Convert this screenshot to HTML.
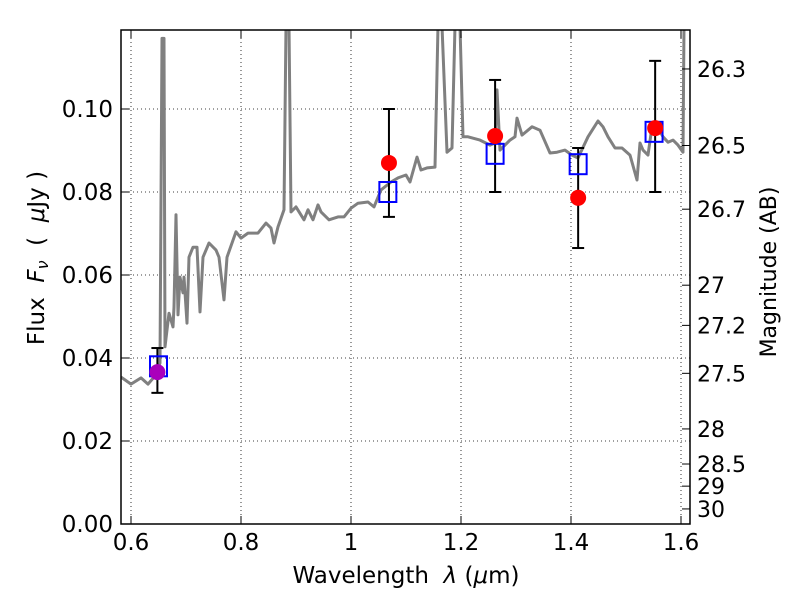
<!DOCTYPE html>
<html><head><meta charset="utf-8"><style>
body{margin:0;background:#fff}
svg text{font-family:"DejaVu Sans","Liberation Sans",sans-serif;fill:#000}
</style></head><body>
<svg id="chart" width="800" height="600" viewBox="0 0 800 600">
<defs><clipPath id="clip"><rect x="121" y="30" width="569" height="494"/></clipPath></defs>
<g id="grid"></g>
<g id="spec" clip-path="url(#clip)"></g>
<g id="marks" clip-path="url(#clip)"></g>
<rect x="121" y="30" width="569" height="494" fill="none" stroke="#000" stroke-width="1.5"/>
<g id="axes"></g>
<text xml:space="preserve" x="406" y="583" font-size="23" text-anchor="middle">Wavelength  <tspan font-style="italic">λ</tspan> (<tspan font-style="italic">μ</tspan>m)</text>
<text xml:space="preserve" transform="translate(44,258) rotate(-90)" font-size="23" text-anchor="middle">Flux  <tspan font-style="italic">F<tspan font-size="16" dy="4">ν</tspan></tspan><tspan dy="-4">  (  </tspan><tspan font-style="italic">μ</tspan>Jy )</text>
<text xml:space="preserve" transform="translate(776,272) rotate(-90)" font-size="22" text-anchor="middle">Magnitude (AB)</text>
</svg>
<script>
const xTicks=[0.6,0.8,1.0,1.2,1.4,1.6];
const xTickLabels=["0.6","0.8","1","1.2","1.4","1.6"];
const yTicks=[0,0.02,0.04,0.06,0.08,0.10];
const yTickLabels=["0.00","0.02","0.04","0.06","0.08","0.10"];
const magTicks=[26.3,26.5,26.7,27,27.2,27.5,28,28.5,29,30];
const specWave=[0.5818,0.6,0.6182,0.6309,0.6418,0.6527,0.6564,0.66,0.6618,0.6691,0.6764,0.6782,0.6818,0.6855,0.6891,0.6945,0.6964,0.7018,0.7055,0.7127,0.72,0.7255,0.7309,0.7418,0.7545,0.76,0.7691,0.7745,0.7909,0.8,0.8127,0.8309,0.8455,0.8545,0.86,0.8673,0.8782,0.8818,0.8873,0.8909,0.9,0.9145,0.9218,0.9309,0.94,0.9455,0.96,0.9764,0.9873,1.0,1.0127,1.0309,1.0418,1.0545,1.0727,1.0855,1.1,1.1073,1.12,1.1273,1.1382,1.1527,1.1582,1.1655,1.1745,1.1836,1.1891,1.1982,1.2036,1.2127,1.2345,1.2527,1.2618,1.2655,1.2709,1.28,1.2891,1.2982,1.3018,1.3109,1.3291,1.3436,1.3618,1.3745,1.3891,1.4018,1.4127,1.4309,1.4491,1.4582,1.4673,1.48,1.4927,1.5073,1.52,1.5255,1.5309,1.54,1.5473,1.5582,1.5673,1.5764,1.5855,1.5945,1.6036,1.6055,1.6109];
const specFlux=[0.0354,0.0337,0.0352,0.0337,0.0354,0.0388,0.117,0.117,0.0427,0.0508,0.0475,0.0523,0.0745,0.0504,0.0595,0.0557,0.0595,0.0484,0.0643,0.0667,0.0667,0.0511,0.0643,0.0677,0.066,0.0643,0.054,0.0643,0.0704,0.0689,0.0701,0.0701,0.0725,0.0713,0.0677,0.0716,0.0757,0.12,0.12,0.0752,0.0764,0.0733,0.0757,0.0733,0.0769,0.0752,0.0733,0.074,0.074,0.0761,0.0773,0.0776,0.0764,0.0805,0.0824,0.0834,0.0841,0.0824,0.0884,0.0853,0.0858,0.086,0.12,0.12,0.0896,0.0906,0.12,0.12,0.0933,0.0933,0.0925,0.0913,0.0918,0.1046,0.0901,0.0913,0.0925,0.0933,0.0978,0.0937,0.0957,0.0949,0.0894,0.0896,0.0901,0.0889,0.0882,0.0933,0.0971,0.0957,0.0933,0.0906,0.0906,0.0889,0.0829,0.0918,0.0901,0.0889,0.0957,0.0954,0.0933,0.092,0.0925,0.0913,0.0896,0.12,0.12];
const obsWave=[0.648,1.069,1.262,1.413,1.553];
const obsFlux=[0.0366,0.087,0.0935,0.0786,0.0954];
const obsLow=[0.0316,0.074,0.080,0.0665,0.080];
const obsHigh=[0.0424,0.100,0.107,0.0906,0.1116];
const obsColors=["#aa00bb","#ff0000","#ff0000","#ff0000","#ff0000"];
const modelWave=[0.65,1.067,1.262,1.413,1.551];
const modelFlux=[0.038,0.080,0.0892,0.0867,0.0945];

const NS="http://www.w3.org/2000/svg";
const X=l=>131+(l-0.6)*550;
const Y=f=>524-f*4150;
const magToFlux=m=>Math.pow(10,(23.9-m)/2.5);
function mk(parent,tag,attrs){const e=document.createElementNS(NS,tag);for(const k in attrs)e.setAttribute(k,attrs[k]);document.getElementById(parent).appendChild(e);return e;}

xTicks.forEach((t,i)=>{
 const x=X(t);
 let g=mk('grid','line',{x1:x,x2:x,y1:30,y2:524,stroke:'#000','stroke-width':0.8,'stroke-dasharray':'1,3'});
 
 
 let a=mk('axes','line',{x1:x,x2:x,y1:524,y2:516,stroke:'#000'});
 
 
 let b=mk('axes','line',{x1:x,x2:x,y1:30,y2:38,stroke:'#000'});
 
 
 let l=mk('axes','text',{x:x,y:550,'font-size':23,'text-anchor':'middle'});
 l.textContent=xTickLabels[i];
 
 
});
yTicks.forEach((t,i)=>{
 const y=Y(t);
 let g=mk('grid','line',{x1:121,x2:690,y1:y,y2:y,stroke:'#000','stroke-width':0.8,'stroke-dasharray':'1,3'});
 
 
 let a=mk('axes','line',{x1:121,x2:129,y1:y,y2:y,stroke:'#000'});
 
 
 let l=mk('axes','text',{x:113,y:y+8,'font-size':23,'text-anchor':'end'});
 l.textContent=yTickLabels[i];
 
 
});
magTicks.forEach(m=>{
 const y=Y(magToFlux(m));
 let a=mk('axes','line',{x1:682,x2:690,y1:y,y2:y,stroke:'#000'});
 
 
 let l=mk('axes','text',{x:697,y:y+8,'font-size':22});
 l.textContent=String(m);
 
 
});
let p=mk('spec','polyline',{points:specWave.map((w,i)=>X(w).toFixed(1)+','+Y(specFlux[i]).toFixed(1)).join(' '),fill:'none',stroke:'#808080','stroke-width':3,'stroke-linejoin':'round'});


obsWave.forEach((w,i)=>{
 const x=X(w);
 let e=mk('marks','line',{x1:x,x2:x,y1:Y(obsLow[i]),y2:Y(obsHigh[i]),stroke:'#000','stroke-width':2});
 
 
 [obsLow[i],obsHigh[i]].forEach(v=>{
  let c=mk('marks','line',{x1:x-6,x2:x+6,y1:Y(v),y2:Y(v),stroke:'#000','stroke-width':2});
  
  
 });
});
modelWave.forEach((w,i)=>{
 let r=mk('marks','rect',{x:X(w)-8.5,y:Y(modelFlux[i])-10,width:17,height:20,fill:'none',stroke:'#0000ff','stroke-width':2});
 
 
});
obsWave.forEach((w,i)=>{
 let c=mk('marks','circle',{cx:X(w),cy:Y(obsFlux[i]),r:8,fill:obsColors[i]});
 
 
});
</script>
</body></html>
